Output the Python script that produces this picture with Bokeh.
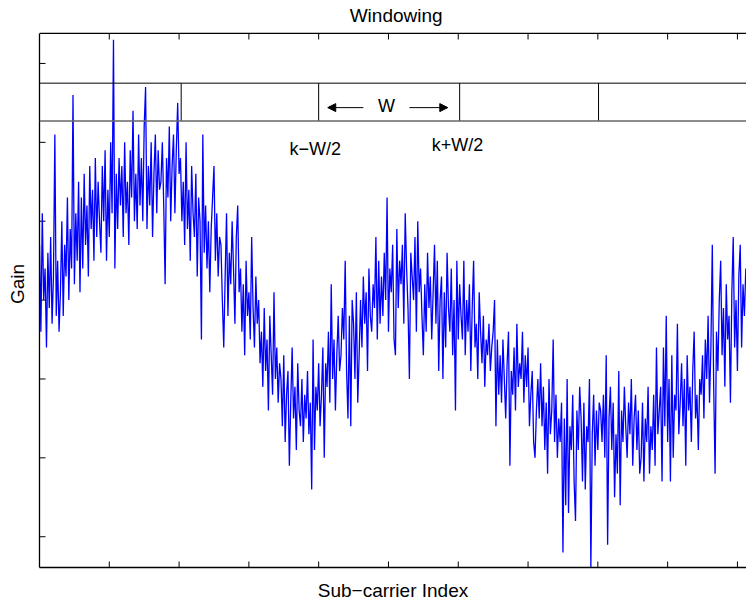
import math
from bokeh.plotting import figure
from bokeh.models import LinearAxis, FixedTicker, Span, Arrow, NormalHead, Label, Range1d
from bokeh.embed import file_html
from bokeh.resources import INLINE

# ---- data ----
gain = [
    47, 36, 51, 40, 44, 34, 46, 39, 48, 37, 43, 61, 38, 45, 36,
    41, 50, 38, 47, 43, 53, 40, 49, 44, 66, 42, 51, 45, 55, 41,
    53, 44, 56, 47, 52, 43, 57, 49, 54, 45, 58, 48, 55, 50,
    46, 57, 50, 59, 45, 54, 48, 60, 51, 73, 44, 56, 49, 58, 52,
    57, 48, 60, 51, 55, 47, 59, 53, 64, 50, 56, 49, 61, 52,
    58, 50, 62, 67, 49, 57, 52, 60, 48, 56, 61, 51, 59, 54,
    55, 60, 52, 42, 58, 53, 62, 50, 57, 61, 51, 59, 65, 56,
    58, 50, 55, 47, 60, 49, 54, 45, 57, 51, 48, 56, 43, 53, 50,
    35, 61, 46, 52, 44, 50, 41, 49, 53, 57, 45, 51, 43, 48,
    47, 40, 34, 43, 51, 38, 46, 42, 50, 44, 37, 48, 52, 41,
    44, 36, 42, 33, 45, 38, 41, 35, 48, 39, 34, 43, 37, 40, 32,
    36, 29, 39, 31, 35, 26, 38, 33, 28, 41, 30, 34, 27, 32,
    30, 24, 33, 22, 28, 31, 19, 27, 34, 25, 29, 21, 32, 26,
    24, 30, 22, 28, 25, 31, 23, 27, 16, 35, 21, 29, 26, 32, 24,
    28, 34, 20, 32, 29, 36, 27, 42, 30, 35, 26, 33, 38, 31,
    33, 39, 35, 45, 31, 25, 38, 24, 40, 37, 30, 41, 27, 33,
    40, 34, 43, 37, 41, 31, 44, 38, 36, 42, 39, 48, 35, 45, 37,
    43, 38, 46, 40, 53, 36, 44, 41, 47, 35, 33, 49, 39, 45,
    42, 47, 37, 51, 44, 39, 30, 46, 43, 40, 48, 36, 50, 41,
    44, 38, 33, 42, 36, 46, 39, 43, 35, 41, 47, 37, 45, 31, 40,
    43, 30, 41, 34, 46, 39, 36, 44, 33, 40, 26, 45, 35, 42,
    38, 35, 45, 33, 40, 36, 42, 31, 39, 45, 34, 37, 30, 41,
    36, 32, 38, 29, 35, 33, 37, 31, 34, 36, 40, 24, 35, 28,
    33, 27, 35, 30, 25, 32, 36, 19, 31, 28, 34, 26, 37, 29, 32,
    30, 36, 27, 33, 29, 34, 24, 28, 31, 22, 20, 26, 30, 25,
    32, 24, 29, 21, 27, 18, 30, 23, 26, 35, 22, 28, 20, 25,
    22, 27, 8, 25, 14, 30, 13, 24, 21, 28, 17, 12, 26, 21, 29,
    25, 17, 27, 16, 24, 22, 30, 6, 23, 28, 19, 26, 21, 27,
    26, 22, 28, 20, 33, 9, 25, 29, 21, 27, 15, 23, 18, 31,
    14, 26, 22, 29, 24, 20, 27, 23, 30, 19, 25, 28, 21, 26, 18,
    20, 27, 17, 25, 22, 29, 18, 24, 21, 28, 19, 34, 23, 26,
    29, 17, 34, 24, 38, 22, 30, 17, 33, 20, 28, 26, 37, 23,
    27, 32, 24, 30, 19, 33, 26, 29, 22, 31, 36, 25, 28, 21, 30,
    28, 33, 25, 35, 30, 38, 27, 34, 47, 29, 18, 36, 31, 40,
    45, 33, 39, 29, 42, 35, 38, 27, 41, 48, 34, 40, 31, 43,
    47, 34, 42, 38, 44,
]
subcarrier_step = 2
subcarrier = [i * subcarrier_step for i in range(len(gain))]

x_ticks = [100, 200, 300, 400, 500, 600, 700, 800, 900, 1000]
y_ticks = [10, 20, 30, 40, 50, 60, 70]

window_edges = [203, 400, 602, 801]
band_low = 62.7
band_high = 67.5
arrow_y = 64.4
arrow_left = (464, 413)
arrow_right = (530, 585)
w_label_pos = (497, 64.6)
lower_label = ("k\u2212W/2", 395, 59.2)
upper_label = ("k+W/2", 599, 59.6)
title_pos = (511, 76.1)

title_text = "Windowing"
x_label = "Sub\u2212carrier Index"
y_label = "Gain"

# axes box (data limits) and the visible y extent including the title strip
X0, X1 = 0, 1013
Y0, Y1 = 6.1, 73.8
Y_TOP = 77.98

FONT = "Liberation Sans"
FS = "19px"

p = figure(width=746, height=603, output_backend="svg", toolbar_location=None,
           x_range=Range1d(X0, X1), y_range=Range1d(Y0, Y_TOP),
           min_border_left=39, min_border_right=0, min_border_top=0,
           min_border_bottom=35, x_axis_location=None, y_axis_location=None)
p.outline_line_color = None
p.grid.visible = False
p.background_fill_color = "white"
p.border_fill_color = "white"


def make_axis(label=None, standoff=5):
    ax = LinearAxis(ticker=FixedTicker(ticks=[]))
    ax.major_tick_line_color = None
    ax.minor_tick_line_color = None
    ax.major_label_standoff = 0
    ax.axis_line_color = "black"
    ax.axis_line_width = 1.3
    if label:
        ax.axis_label = label
        ax.axis_label_text_font = FONT
        ax.axis_label_text_font_size = FS
        ax.axis_label_text_font_style = "normal"
        ax.axis_label_text_color = "black"
        ax.axis_label_standoff = standoff
    return ax


p.add_layout(make_axis(x_label, standoff=12), "below")
left_axis = make_axis(y_label, standoff=12)
left_axis.bounds = (Y0, Y1)
p.add_layout(left_axis, "left")

# top edge of the axes box
p.add_layout(Span(location=Y1, dimension="width", line_color="black", line_width=1.3))

# inward tick marks (screen-length rays from the box edges)
TICK = 6
p.ray(x=x_ticks, y=[Y0] * len(x_ticks), length=TICK, length_units="screen",
      angle=math.pi / 2, line_color="black", line_width=1)
p.ray(x=x_ticks, y=[Y1] * len(x_ticks), length=TICK, length_units="screen",
      angle=-math.pi / 2, line_color="black", line_width=1)
p.ray(x=[X0] * len(y_ticks), y=y_ticks, length=TICK, length_units="screen",
      angle=0, line_color="black", line_width=1)

p.line(subcarrier, gain, line_color="#0000ff", line_width=1.3)

# window band
p.add_layout(Span(location=band_high, dimension="width", line_color="black", line_width=1))
p.add_layout(Span(location=band_low, dimension="width", line_color="#666666", line_width=1.5))
p.segment(x0=window_edges, y0=[band_low] * len(window_edges),
          x1=window_edges, y1=[band_high] * len(window_edges),
          line_color="black", line_width=1)

for (xs, xe) in (arrow_left, arrow_right):
    p.add_layout(Arrow(end=NormalHead(size=8, fill_color="black", line_color="black"),
                       x_start=xs, y_start=arrow_y, x_end=xe, y_end=arrow_y,
                       line_color="black", line_width=1))

# title
p.add_layout(Label(x=title_pos[0], y=title_pos[1], text=title_text, text_align="center",
                   text_baseline="middle", text_font=FONT, text_font_size=FS,
                   text_color="black"))

p.add_layout(Label(x=w_label_pos[0], y=w_label_pos[1], text="W", text_align="center",
                   text_baseline="middle", text_font=FONT, text_font_size="18px",
                   text_color="black"))
for (t, lx, ly) in (lower_label, upper_label):
    p.add_layout(Label(x=lx, y=ly, text=t, text_align="center", text_baseline="middle",
                       text_font=FONT, text_font_size="18px", text_color="black"))

open("out.html", "w").write(file_html(p, INLINE))
